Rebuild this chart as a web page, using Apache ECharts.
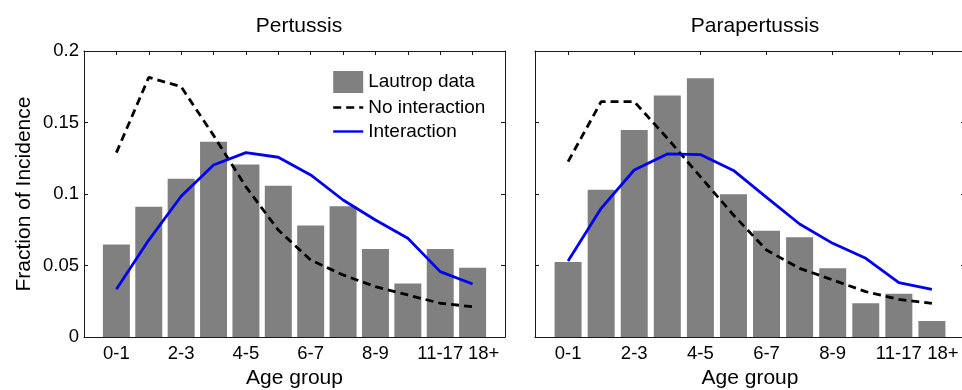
<!DOCTYPE html>
<html>
<head>
<meta charset="utf-8">
<script src="https://cdn.jsdelivr.net/npm/echarts@6/dist/echarts.min.js"></script>
<style>
html,body{margin:0;padding:0;background:#fff;}
#chart{width:962px;height:390px;}
</style>
</head>
<body>
<div id="chart"></div>
<script>
// ---- data ----
const ageGroups = ['0-1', '', '2-3', '', '4-5', '', '6-7', '', '8-9', '', '11-17', '18+'];
const panelTitles = ['Pertussis', 'Parapertussis'];
const seriesNames = ['Lautrop data', 'No interaction', 'Interaction'];

const pertLautrop = [0.0647, 0.0911, 0.1107, 0.1366, 0.1207, 0.1058, 0.0779, 0.0914, 0.0615, 0.0375, 0.0615, 0.0485];
const pertNoInter = [0.1289, 0.1816, 0.1750, 0.1410, 0.1050, 0.0748, 0.0538, 0.0434, 0.0352, 0.0294, 0.0236, 0.0212];
const pertInter   = [0.0334, 0.0678, 0.0984, 0.1203, 0.1289, 0.1257, 0.1133, 0.0958, 0.0818, 0.0690, 0.0457, 0.0371];

const paraLautrop = [0.0525, 0.1030, 0.1448, 0.1688, 0.1809, 0.0998, 0.0743, 0.0697, 0.0480, 0.0236, 0.0303, 0.0112];
const paraNoInter = [0.1226, 0.1646, 0.1646, 0.1390, 0.1121, 0.0853, 0.0608, 0.0480, 0.0399, 0.0317, 0.0263, 0.0235];
const paraInter   = [0.0531, 0.0900, 0.1168, 0.1280, 0.1276, 0.1165, 0.0977, 0.0790, 0.0655, 0.0550, 0.0380, 0.0333];

// ---- build ----
const FONT = '"Liberation Sans", Arial, Helvetica, sans-serif';
const AXIS_COLOR = '#1a1a1a';
const toPairs = arr => arr.map((v, i) => [i + 1, v]);
const nCat = ageGroups.length;
const labeledPositions = ageGroups.map((g, i) => g ? i + 1 : null).filter(v => v !== null);
const labelValues = [0, ...labeledPositions, nCat + 1];

const grids = [
  {left: 84, top: 51, width: 421, height: 286, outerBoundsMode: 'none', containLabel: false},
  {left: 535, top: 51, width: 430, height: 286, outerBoundsMode: 'none', containLabel: false}
];

function xAxes(gi, allTicks) {
  const tick = {show: true, inside: true, length: 4, lineStyle: {color: AXIS_COLOR, width: 1}};
  if (!allTicks) tick.customValues = labeledPositions;
  const bottom = {
    type: 'value', gridIndex: gi, position: 'bottom', min: 0, max: nCat + 1, interval: 1,
    axisLine: {show: true, onZero: false, lineStyle: {color: AXIS_COLOR, width: 1}},
    axisTick: tick,
    splitLine: {show: false},
    axisLabel: {
      show: true, customValues: labelValues, color: '#000', fontSize: 18.5, fontFamily: FONT, margin: 7,
      hideOverlap: false,
      formatter: v => {
        const i = Math.round(v);
        const t = ageGroups[i - 1] || '';
        return i === nCat ? '{last|' + t + '}' : t;
      },
      rich: {last: {fontSize: 18.5, fontFamily: FONT, color: '#000', padding: [0, 0, 0, 22]}}
    },
    name: 'Age group', nameLocation: 'middle', nameGap: 31,
    nameTextStyle: {color: '#000', fontSize: 21, fontFamily: FONT}
  };
  const top = {
    type: 'value', gridIndex: gi, position: 'top', min: 0, max: nCat + 1, interval: 1,
    axisLine: {show: true, onZero: false, lineStyle: {color: AXIS_COLOR, width: 1}},
    axisTick: Object.assign({}, tick),
    splitLine: {show: false}, axisLabel: {show: false}
  };
  return [bottom, top];
}

function yAxes(gi, withLabels) {
  const base = {
    type: 'value', gridIndex: gi, min: 0, max: 0.2, interval: 0.05,
    axisLine: {show: true, onZero: false, lineStyle: {color: AXIS_COLOR, width: 1}},
    axisTick: {show: true, inside: true, length: 4, lineStyle: {color: AXIS_COLOR, width: 1}},
    splitLine: {show: false}
  };
  const left = Object.assign({}, base, {
    position: 'left',
    axisLabel: withLabels ? {show: true, color: '#000', fontSize: 18.5, fontFamily: FONT, margin: 5,
      formatter: v => String(+v.toFixed(2))} : {show: false}
  });
  if (withLabels) {
    Object.assign(left, {
      name: 'Fraction of Incidence', nameLocation: 'middle', nameGap: 49, nameRotate: 90,
      nameTextStyle: {color: '#000', fontSize: 21, fontFamily: FONT}
    });
  }
  const right = Object.assign({}, base, {position: 'right', axisLabel: {show: false}});
  return [left, right];
}

const xAxis = [...xAxes(0, true), ...xAxes(1, false)];
const yAxis = [...yAxes(0, true), ...yAxes(1, false)];

function panelSeries(gi, bars, noInter, inter) {
  return [
    {name: seriesNames[0], type: 'bar', xAxisIndex: gi * 2, yAxisIndex: gi * 2, data: toPairs(bars),
     barWidth: 27, itemStyle: {color: '#808080'}, z: 2, animation: false},
    {name: seriesNames[1], type: 'line', xAxisIndex: gi * 2, yAxisIndex: gi * 2, data: toPairs(noInter),
     symbol: 'none', lineStyle: {color: '#000', width: 2.8, type: [8, 5]}, itemStyle: {color: '#000'}, z: 3, animation: false},
    {name: seriesNames[2], type: 'line', xAxisIndex: gi * 2, yAxisIndex: gi * 2, data: toPairs(inter),
     symbol: 'none', lineStyle: {color: '#0000f0', width: 2.8}, itemStyle: {color: '#0000f0'}, z: 4, animation: false}
  ];
}

const hiddenSymbol = {color: 'rgba(0,0,0,0)', borderWidth: 0, opacity: 0};

const option = {
  backgroundColor: '#fff',
  animation: false,
  title: [
    {text: panelTitles[0], left: 294, top: 11, textAlign: 'center',
     textStyle: {color: '#000', fontSize: 21, fontWeight: 'normal', fontFamily: FONT}},
    {text: panelTitles[1], left: 750, top: 11, textAlign: 'center',
     textStyle: {color: '#000', fontSize: 21, fontWeight: 'normal', fontFamily: FONT}}
  ],
  legend: {
    orient: 'vertical', left: 332, top: 71, padding: 0, itemGap: 5,
    itemWidth: 30, itemHeight: 22,
    data: [
      {name: seriesNames[0], icon: 'rect'},
      {name: seriesNames[1], itemStyle: hiddenSymbol, lineStyle: {width: 2.4}},
      {name: seriesNames[2], itemStyle: hiddenSymbol, lineStyle: {width: 2.4}}
    ],
    textStyle: {color: '#000', fontSize: 19, fontFamily: FONT},
    selectedMode: false
  },
  grid: grids,
  xAxis: xAxis,
  yAxis: yAxis,
  series: [
    ...panelSeries(0, pertLautrop, pertNoInter, pertInter),
    ...panelSeries(1, paraLautrop, paraNoInter, paraInter)
  ]
};

const chart = echarts.init(document.getElementById('chart'), null, {renderer: 'canvas'});
chart.setOption(option);
</script>
</body>
</html>
